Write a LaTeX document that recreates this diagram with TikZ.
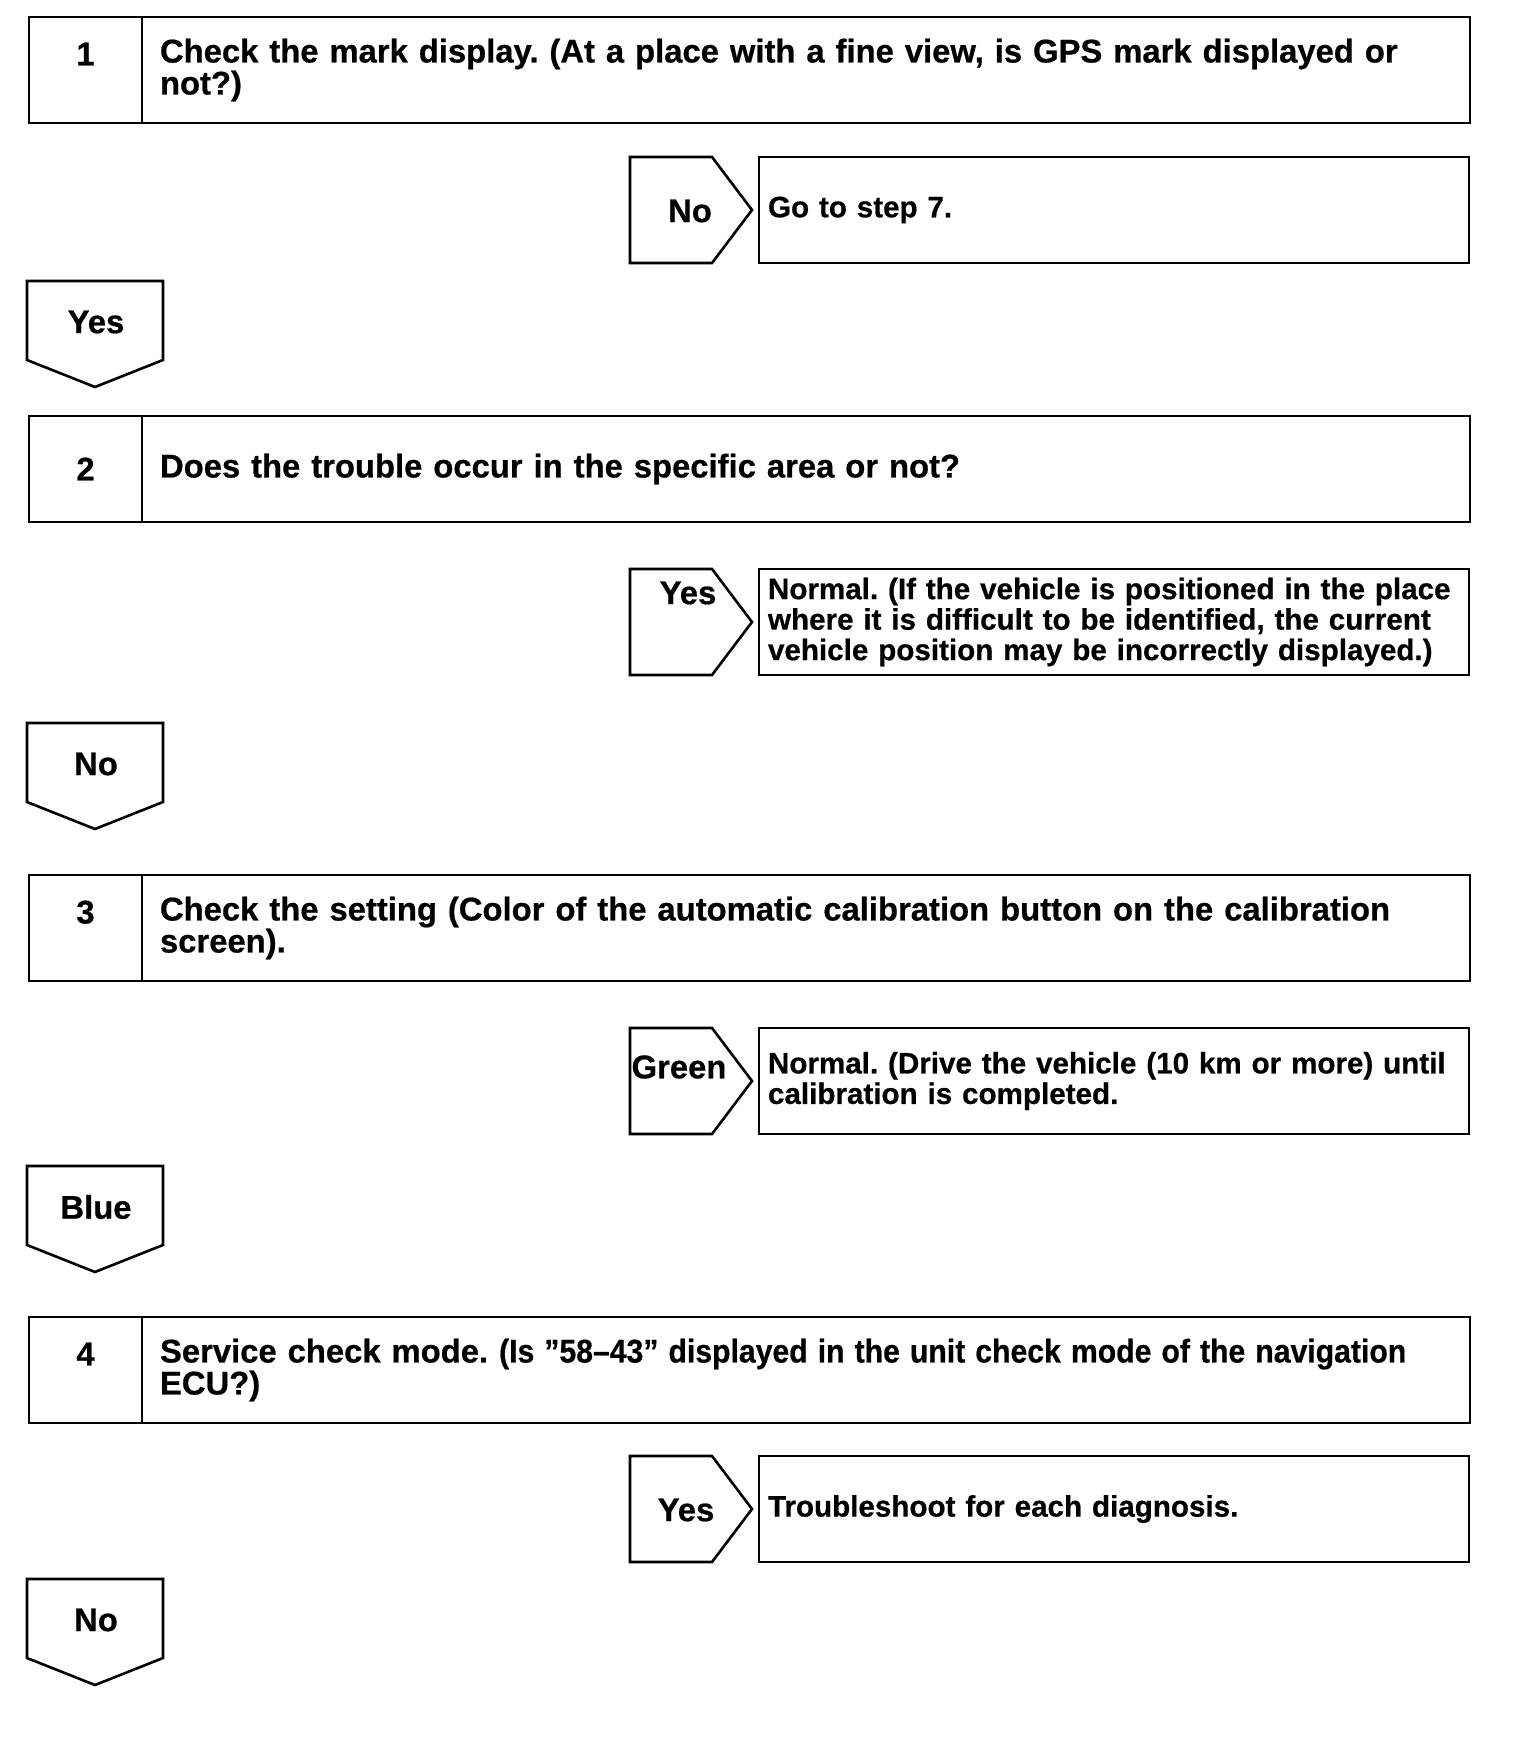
\documentclass[tikz,border=0pt]{standalone}
\usepackage{fontspec}
\usepackage{graphicx}
\setmainfont{Liberation Sans}[BoldFeatures={FakeBold=0.6}]
\usetikzlibrary{positioning}

\begin{document}
\frenchspacing
\begin{tikzpicture}[x=1pt,y=-1pt,line width=2.6pt,font=\bfseries\fontsize{32.8}{32}\selectfont,
  num/.style={draw,outer sep=0pt,minimum width=113pt,minimum height=106pt,inner sep=0pt,align=center},
  ask/.style={draw,outer sep=0pt,minimum height=106pt,text width=1292pt,inner xsep=18pt,inner ysep=0pt,align=left},
  res/.style={draw,outer sep=0pt,minimum height=106pt,text width=692pt,inner xsep=9pt,inner ysep=0pt,align=left,
    font=\bfseries\fontsize{29.6}{30.5}\selectfont},
  lbl/.style={inner sep=0pt,align=center}]
  \useasboundingbox (0,0) rectangle (1520,1750);
  % question boxes
  \node[num,anchor=north west] (n1) at (29,17) {1\\\mbox{}};
  \node[ask,right=0pt of n1] (q1) {Check the mark display. (At a place with a fine view, is GPS mark displayed or\\not?)};
  \node[num,anchor=north west] (n2) at (29,416) {2};
  \node[ask,right=0pt of n2] (q2) {Does the trouble occur in the specific area or not?};
  \node[num,anchor=north west] (n3) at (29,875) {3\\\mbox{}};
  \node[ask,right=0pt of n3] (q3) {Check the setting (Color of the automatic calibration button on the calibration\\screen).};
  \node[num,anchor=north west] (n4) at (29,1317) {4\\\mbox{}};
  \node[ask,right=0pt of n4] (q4) {Service check mode. \scalebox{0.92}[1]{(Is ”58–43” displayed in the unit check mode of the navigation}\\ECU?)};
  % side branches
  \foreach \r/\yy in {1/157,2/569,3/1028,4/1456}{
    \coordinate (a\r) at (630,\yy);
    \draw (a\r) -- ++(82,0) -- ++(40,53) -- ++(-40,53) -- ++(-82,0) -- cycle;
  }
  \node[lbl] (w1) at (690,211) {No};
  \node[lbl] (w2) at (688,593) {Yes};
  \node[lbl] (w3) at (679,1067) {Green};
  \node[lbl] (w4) at (686,1510) {Yes};
  \node[res,anchor=north west] (t1) at (759,157) {Go to step 7.};
  \node[res,anchor=north west] (t2) at (759,569) {Normal. (If the vehicle is positioned in the place\\where it is difficult to be identified, the current\\vehicle position may be incorrectly displayed.)};
  \node[res,anchor=north west] (t3) at (759,1028) {Normal. (Drive the vehicle (10 km or more) until\\calibration is completed.};
  \node[res,anchor=north west] (t4) at (759,1456) {Troubleshoot for each diagnosis.};
  % down branches
  \foreach \d/\yy/\w in {1/281/Yes,2/723/No,3/1166/Blue,4/1579/No}{
    \coordinate (b\d) at (27,\yy);
    \draw (b\d) -- ++(136,0) -- ++(0,79) -- ++(-68,27) -- ++(-68,-27) -- cycle;
    \node[lbl] (y\d) at (96,\yy+41) {\w};
  }
\end{tikzpicture}
\end{document}
